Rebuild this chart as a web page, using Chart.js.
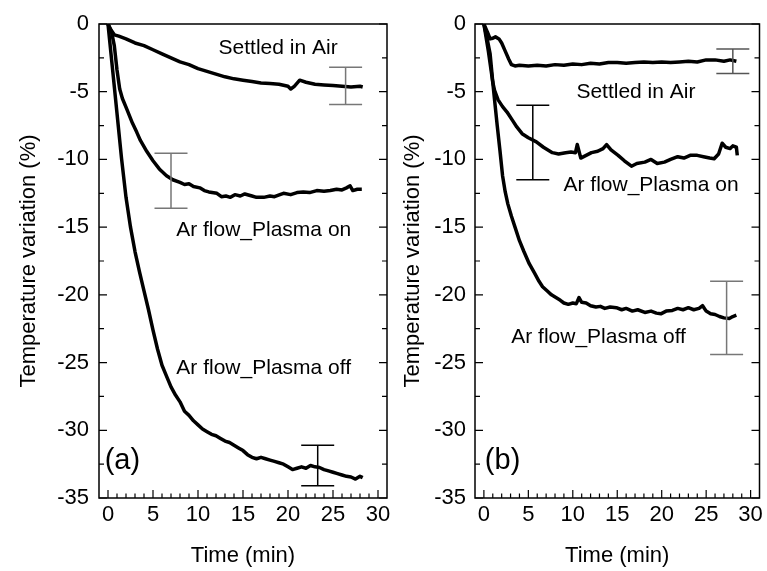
<!DOCTYPE html>
<html>
<head>
<meta charset="utf-8">
<script src="https://cdn.jsdelivr.net/npm/chart.js@4.4.0/dist/chart.umd.min.js"></script>
<style>
  body { margin: 0; background: #fff; width: 767px; height: 571px; overflow: hidden; position: relative; }
  canvas { position: absolute; top: 0; }
  #chartA { left: 0; }
  #chartB { left: 370px; }
</style>
</head>
<body>
<canvas id="chartA" width="400" height="571"></canvas>
<canvas id="chartB" width="397" height="571"></canvas>
<script>
// axis ticks
var xTickVals = [0, 5, 10, 15, 20, 25, 30];
var yTickVals = [0, -5, -10, -15, -20, -25, -30, -35];

// panel (a) - Settled in Air
var aSetT = [0, 0.3, 0.7, 1.2, 2, 3, 4, 5, 6, 7, 8, 9, 10, 11, 12, 13, 14, 15, 16, 17, 18, 19, 20, 20.3, 20.7, 21.3, 22, 23, 24, 25, 26, 27, 28, 28.3];
var aSetV = [0, -0.4, -0.8, -0.9, -1.1, -1.4, -1.6, -1.9, -2.2, -2.5, -2.8, -3.0, -3.3, -3.5, -3.7, -3.9, -4.05, -4.15, -4.25, -4.35, -4.4, -4.45, -4.6, -4.8, -4.6, -4.15, -4.3, -4.45, -4.5, -4.55, -4.6, -4.65, -4.6, -4.65];
// panel (a) - Ar flow_Plasma on
var aOnT = [0, 0.4, 0.7, 1.0, 1.3, 1.6, 2.1, 2.7, 3.2, 3.6, 4.3, 5.0, 5.7, 6.5, 7.2, 8.0, 8.5, 9.0, 9.5, 10.2, 10.7, 11.2, 12.1, 12.6, 13.1, 13.6, 14.1, 14.7, 15.2, 16.0, 16.5, 17.3, 18.0, 18.5, 19.1, 19.5, 20.3, 21.0, 21.7, 22.4, 23.2, 24.0, 24.7, 25.4, 26.0, 26.5, 26.9, 27.2, 27.7, 28.2];
var aOnV = [0, -0.6, -1.6, -3.4, -4.8, -5.5, -6.3, -7.3, -8.0, -8.6, -9.4, -10.1, -10.7, -11.2, -11.5, -11.7, -11.85, -11.8, -12.0, -12.1, -12.3, -12.4, -12.5, -12.75, -12.7, -12.8, -12.6, -12.7, -12.55, -12.7, -12.8, -12.8, -12.7, -12.75, -12.6, -12.5, -12.6, -12.45, -12.4, -12.45, -12.3, -12.35, -12.3, -12.2, -12.25, -12.1, -11.95, -12.3, -12.2, -12.2];
// panel (a) - Ar flow_Plasma off
var aOffT = [0, 0.5, 1.0, 1.5, 2.0, 2.5, 3.0, 3.5, 4.0, 4.5, 5.0, 5.5, 6.0, 6.5, 7.0, 7.5, 8.0, 8.5, 9.0, 9.5, 10, 10.5, 11, 11.5, 12, 12.5, 13, 13.5, 14, 14.5, 15, 15.5, 16, 16.5, 17, 17.5, 18, 18.5, 19, 19.5, 20, 20.5, 21, 21.5, 22, 22.5, 23, 23.5, 24, 24.5, 25, 25.5, 26, 26.5, 27, 27.5, 28, 28.3];
var aOffV = [0, -3.3, -6.6, -9.9, -12.8, -15.0, -16.8, -18.3, -19.7, -21.1, -22.6, -24.0, -25.2, -26.0, -26.8, -27.4, -27.9, -28.6, -28.9, -29.3, -29.6, -29.9, -30.1, -30.3, -30.4, -30.6, -30.8, -30.9, -31.1, -31.3, -31.5, -31.8, -32.0, -32.1, -32.0, -32.1, -32.2, -32.3, -32.4, -32.5, -32.7, -32.9, -32.8, -32.7, -32.8, -32.6, -32.7, -32.75, -32.9, -33.0, -33.1, -33.2, -33.3, -33.4, -33.45, -33.6, -33.4, -33.5];

// panel (b) - Settled in Air
var bSetT = [0, 0.4, 0.7, 1.0, 1.3, 1.7, 2.0, 2.4, 2.8, 3.1, 3.5, 4, 5, 6, 7, 8, 9, 10, 11, 12, 13, 14, 15, 16, 17, 18, 19, 20, 21, 22, 23, 24, 25, 26, 27, 27.7, 28.4];
var bSetV = [0, -0.6, -1.1, -1.05, -0.95, -1.1, -1.4, -2.0, -2.6, -3.0, -3.1, -3.05, -3.1, -3.05, -3.1, -3.0, -3.05, -2.95, -3.0, -2.9, -2.95, -2.85, -2.85, -2.9, -2.85, -2.8, -2.85, -2.8, -2.85, -2.8, -2.75, -2.8, -2.65, -2.65, -2.75, -2.65, -2.75];
// panel (b) - Ar flow_Plasma on
var bOnT = [0, 0.5, 1.0, 1.2, 1.6, 2.1, 2.6, 3.2, 3.7, 4.3, 5.0, 5.9, 6.7, 7.7, 8.4, 9.2, 9.8, 10.3, 10.5, 10.9, 11.5, 12.1, 12.8, 13.4, 13.8, 14.3, 15.1, 15.8, 16.6, 17.2, 18.1, 18.8, 19.5, 20.3, 21.0, 21.8, 22.5, 23.2, 24.0, 24.7, 25.4, 25.9, 26.4, 26.8, 27.2, 27.7, 28.0, 28.4, 28.5];
var bOnV = [0, -2.0, -4.3, -4.9, -5.6, -6.1, -6.5, -7.1, -7.6, -8.1, -8.4, -8.7, -9.1, -9.5, -9.6, -9.5, -9.45, -9.5, -8.9, -9.9, -9.7, -9.5, -9.4, -9.2, -8.9, -9.3, -9.7, -10.1, -10.5, -10.3, -10.2, -10.0, -10.3, -10.2, -10.0, -9.8, -9.9, -9.7, -9.7, -9.8, -9.9, -9.95, -9.6, -8.8, -9.1, -9.2, -9.0, -9.1, -9.7];
// panel (b) - Ar flow_Plasma off
var bOffT = [0, 0.4, 0.7, 1.0, 1.2, 1.5, 1.8, 2.1, 2.4, 2.7, 3.1, 3.5, 4.0, 4.5, 5.1, 5.7, 6.2, 6.6, 7.1, 7.6, 8.1, 8.6, 9.0, 9.5, 10.0, 10.4, 10.7, 11.0, 11.5, 12, 12.6, 13.1, 13.6, 14.2, 14.9, 15.5, 16, 16.7, 17.3, 18.1, 18.8, 19.4, 19.9, 20.5, 21.2, 21.8, 22.4, 23.0, 23.6, 24.2, 24.6, 25.0, 25.5, 26.0, 26.5, 27.0, 27.6, 28.0, 28.4];
var bOffV = [0, -1.2, -2.2, -4.3, -5.6, -7.5, -9.3, -11.2, -12.4, -13.3, -14.2, -15.0, -16.0, -16.8, -17.7, -18.4, -19.0, -19.4, -19.7, -20.0, -20.2, -20.4, -20.6, -20.7, -20.6, -20.65, -20.2, -20.55, -20.6, -20.8, -20.9, -20.85, -21.0, -20.9, -20.95, -21.1, -21.0, -21.2, -21.1, -21.3, -21.2, -21.35, -21.4, -21.2, -21.15, -21.0, -21.1, -20.95, -21.1, -21.0, -20.8, -21.2, -21.4, -21.45, -21.6, -21.7, -21.75, -21.6, -21.5];

// error bars: time, upper, lower
var aErrT = [26.4, 7.0, 23.3];
var aErrHi = [-3.2, -9.55, -31.1];
var aErrLo = [-5.95, -13.6, -34.1];
var bErrT = [28.0, 5.5, 27.3];
var bErrHi = [-1.85, -6.0, -19.0];
var bErrLo = [-3.65, -11.5, -24.4];

// curve labels
var curveNames = ["Settled in Air", "Ar flow_Plasma on", "Ar flow_Plasma off"];
var aNoteT = [18.9, 17.3, 17.3];
var aNoteV = [-1.8, -15.2, -25.4];
var bNoteT = [17.1, 18.8, 12.9];
var bNoteV = [-5.0, -11.9, -23.1];

Chart.defaults.font.family = "'Liberation Sans', Arial, sans-serif";
Chart.defaults.color = "#000";

function toPoints(t, v) {
    return t.map(function (x, i) { return { x: x, y: v[i] }; });
}

function lineSet(t, v) {
    return {
        data: toPoints(t, v),
        borderColor: "#000",
        borderWidth: 3.5,
        borderJoinStyle: "round",
        pointRadius: 0,
        tension: 0,
        fill: false
    };
}

var framePlugin = {
    id: "frame",
    afterDatasetsDraw: function (chart) {
        var ctx = chart.ctx;
        var a = chart.chartArea;
        var sx = chart.scales.x, sy = chart.scales.y;
        var o = chart.options.plugins.frame;
        ctx.save();
        ctx.strokeStyle = "#000";
        ctx.lineWidth = 1.5;
        ctx.strokeRect(a.left, a.top, a.right - a.left, a.bottom - a.top);
        ctx.lineWidth = 1.2;
        ctx.beginPath();
        // bottom ticks, minor every 1 min
        for (var t = 0; t <= 30; t++) {
            var px = sx.getPixelForValue(t);
            var len = (t % 5 === 0) ? 8 : 4.5;
            ctx.moveTo(px, a.bottom);
            ctx.lineTo(px, a.bottom - len);
        }
        // left / right ticks, minor every 2.5
        for (var v = 0; v >= -35; v -= 2.5) {
            var py = sy.getPixelForValue(v);
            var l2 = (v % 5 === 0) ? 8 : 5;
            ctx.moveTo(a.left, py);
            ctx.lineTo(a.left + l2, py);
            ctx.moveTo(a.right, py);
            ctx.lineTo(a.right - l2, py);
        }
        ctx.stroke();

        // error bars
        for (var i = 0; i < o.errT.length; i++) {
            var ex = sx.getPixelForValue(o.errT[i]);
            var y1 = sy.getPixelForValue(o.errHi[i]);
            var y2 = sy.getPixelForValue(o.errLo[i]);
            ctx.strokeStyle = o.errColors[i];
            ctx.lineWidth = 1.5;
            ctx.beginPath();
            ctx.moveTo(ex, y1); ctx.lineTo(ex, y2);
            ctx.moveTo(ex - 16.5, y1); ctx.lineTo(ex + 16.5, y1);
            ctx.moveTo(ex - 16.5, y2); ctx.lineTo(ex + 16.5, y2);
            ctx.stroke();
        }

        // labels
        ctx.fillStyle = "#000";
        ctx.textAlign = "center";
        ctx.textBaseline = "middle";
        ctx.font = "21px 'Liberation Sans', Arial, sans-serif";
        for (var k = 0; k < curveNames.length; k++) {
            ctx.fillText(curveNames[k], sx.getPixelForValue(o.noteT[k]), sy.getPixelForValue(o.noteV[k]));
        }
        ctx.font = "29px 'Liberation Sans', Arial, sans-serif";
        ctx.fillText(o.tag, sx.getPixelForValue(o.tagT), sy.getPixelForValue(-32.3));
        ctx.restore();
    }
};

function makePanel(id, sets, opt) {
    return new Chart(document.getElementById(id), {
        type: "line",
        data: { datasets: sets },
        plugins: [framePlugin],
        options: {
            responsive: false,
            animation: false,
            devicePixelRatio: 1,
            layout: { padding: { left: 0, top: 24, right: opt.padRight, bottom: 0 } },
            plugins: {
                legend: { display: false },
                tooltip: { enabled: false },
                frame: opt
            },
            scales: {
                x: {
                    type: "linear",
                    min: -1,
                    max: 31,
                    grid: { display: false, drawTicks: false },
                    border: { display: false },
                    afterBuildTicks: function (s) { s.ticks = xTickVals.map(function (v) { return { value: v }; }); },
                    afterFit: function (s) { s.height = 73; },
                    ticks: { font: { size: 22 }, padding: 4, maxRotation: 0 },
                    title: { display: true, text: "Time (min)", font: { size: 22 }, padding: { top: 0, bottom: 2 } }
                },
                y: {
                    min: -35,
                    max: 0,
                    grid: { display: false, drawTicks: false },
                    border: { display: false },
                    afterBuildTicks: function (s) { s.ticks = yTickVals.map(function (v) { return { value: v }; }); },
                    afterFit: function (s) { s.width = opt.yWidth; },
                    ticks: { font: { size: 22 }, padding: opt.yPad },
                    title: { display: true, text: "Temperature variation (%)", font: { size: 22 }, padding: { top: opt.titlePad, bottom: 0 } }
                }
            }
        }
    });
}

makePanel("chartA", [lineSet(aSetT, aSetV), lineSet(aOnT, aOnV), lineSet(aOffT, aOffV)], {
    padRight: 13, yWidth: 99, yPad: 10, titlePad: 16,
    errT: aErrT, errHi: aErrHi, errLo: aErrLo, errColors: ["#777", "#777", "#000"],
    noteT: aNoteT, noteV: aNoteV, tag: "(a)", tagT: 1.6
});

makePanel("chartB", [lineSet(bSetT, bSetV), lineSet(bOnT, bOnV), lineSet(bOffT, bOffV)], {
    padRight: 5, yWidth: 105, yPad: 9, titlePad: 30,
    errT: bErrT, errHi: bErrHi, errLo: bErrLo, errColors: ["#555", "#000", "#777"],
    noteT: bNoteT, noteV: bNoteV, tag: "(b)", tagT: 2.1
});
</script>
</body>
</html>
